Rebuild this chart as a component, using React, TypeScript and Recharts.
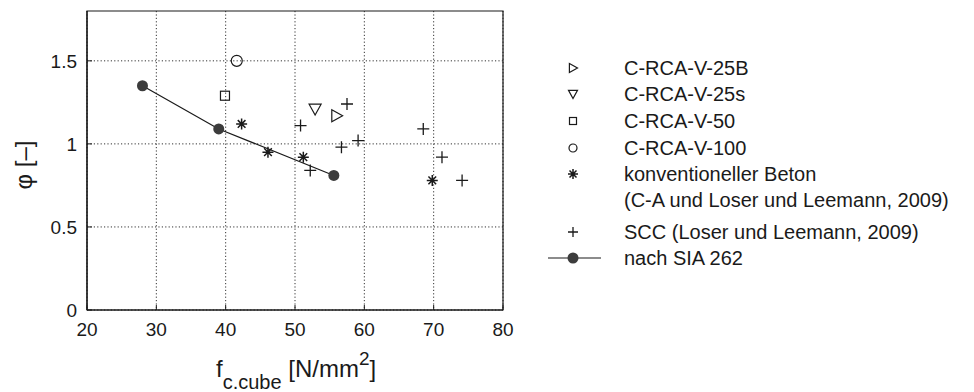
import React from "react";
import {
  ScatterChart,
  Scatter,
  XAxis,
  YAxis,
  CartesianGrid,
  ReferenceArea,
} from "recharts";

// f_c.cube [N/mm2] and phi [-] per series
const rca25bX = [56.0];
const rca25bY = [1.17];
const rca25sX = [52.9];
const rca25sY = [1.21];
const rca50X = [39.9];
const rca50Y = [1.29];
const rca100X = [41.6];
const rca100Y = [1.5];
const konvX = [42.3, 46.1, 51.2, 69.8];
const konvY = [1.12, 0.95, 0.92, 0.78];
const sccX = [57.5, 50.8, 68.5, 59.1, 56.7, 71.2, 52.2, 74.1];
const sccY = [1.24, 1.11, 1.09, 1.02, 0.98, 0.92, 0.84, 0.78];
const siaX = [28, 39, 55.6];
const siaY = [1.35, 1.09, 0.81];

const xTicks = [20, 30, 40, 50, 60, 70, 80];
const yTicks = [0, 0.5, 1, 1.5];

const legendLabels = [
  "C-RCA-V-25B",
  "C-RCA-V-25s",
  "C-RCA-V-50",
  "C-RCA-V-100",
  "konventioneller Beton",
  "(C-A und Loser und Leemann, 2009)",
  "SCC (Loser und Leemann, 2009)",
  "nach SIA 262",
];

const toPoints = (xs: number[], ys: number[]) => xs.map((x, i) => ({ x, y: ys[i] }));

const INK = "#1a1a1a";
const FONT = "'Liberation Sans', Arial, Helvetica, sans-serif";

const TriRight = ({ cx, cy, s = 6 }: any) => (
  <path
    d={`M${cx - s * 0.8},${cy - s} L${cx + s},${cy} L${cx - s * 0.8},${cy + s} Z`}
    fill="none"
    stroke={INK}
    strokeWidth={1.2}
  />
);
const TriDown = ({ cx, cy, s = 6 }: any) => (
  <path
    d={`M${cx - s},${cy - s * 0.8} L${cx + s},${cy - s * 0.8} L${cx},${cy + s} Z`}
    fill="none"
    stroke={INK}
    strokeWidth={1.2}
  />
);
const Square = ({ cx, cy, s = 4.5 }: any) => (
  <rect x={cx - s} y={cy - s} width={s * 2} height={s * 2} fill="none" stroke={INK} strokeWidth={1.2} />
);
const Ring = ({ cx, cy, s = 5.5 }: any) => (
  <circle cx={cx} cy={cy} r={s} fill="none" stroke={INK} strokeWidth={1.2} />
);
const Star = ({ cx, cy, s = 5.5 }: any) => {
  const d = s * 0.7;
  return (
    <path
      d={`M${cx},${cy - s} L${cx},${cy + s} M${cx - s},${cy} L${cx + s},${cy} M${cx - d},${cy - d} L${cx + d},${cy + d} M${cx - d},${cy + d} L${cx + d},${cy - d}`}
      stroke={INK}
      strokeWidth={1.5}
    />
  );
};
const Plus = ({ cx, cy, s = 6 }: any) => (
  <path d={`M${cx},${cy - s} L${cx},${cy + s} M${cx - s},${cy} L${cx + s},${cy}`} stroke={INK} strokeWidth={1.3} />
);
const Dot = ({ cx, cy, s = 5.5 }: any) => <circle cx={cx} cy={cy} r={s} fill="#3c3c3c" />;

const LegendBox = () => {
  const markers = [
    <TriRight cx={573} cy={0} s={4.5} />,
    <TriDown cx={573} cy={0} s={4.5} />,
    <Square cx={573} cy={0} s={3.5} />,
    <Ring cx={573} cy={0} s={4} />,
    <Star cx={573} cy={0} s={5} />,
    null,
    <Plus cx={573} cy={0} s={5} />,
    <g>
      <line x1={548} x2={601} y1={0} y2={0} stroke={INK} strokeWidth={1.2} />
      <Dot cx={573} cy={0} s={5.5} />
    </g>,
  ];
  const rowY = [68, 94, 121, 148, 174, 200, 232, 258];
  return (
    <svg width={974} height={392} style={{ position: "absolute", left: 0, top: 0, pointerEvents: "none" }}>
      {legendLabels.map((label, i) => (
        <g key={label} transform={`translate(0, ${rowY[i]})`}>
          {markers[i]}
          <text x={624} y={0} dy="0.35em" fontSize={20} fontFamily={FONT} fill={INK}>
            {label}
          </text>
        </g>
      ))}
    </svg>
  );
};

const YLabel = () => {
  const cy = 165;
  return (
    <text
      x={32}
      y={cy}
      transform={`rotate(-90, 32, ${cy})`}
      textAnchor="middle"
      fontSize={24}
      fontFamily={FONT}
      fill={INK}
    >
      φ [–]
    </text>
  );
};

const XLabel = () => (
  <text x={216} y={377} fontSize={24} fontFamily={FONT} fill={INK}>
    f
    <tspan dy={12} fontSize={20}>c.cube</tspan>
    <tspan dy={-12}> [N/mm</tspan>
    <tspan dy={-12} fontSize={19}>2</tspan>
    <tspan dy={12}>]</tspan>
  </text>
);

export default function App() {
  return (
    <div style={{ position: "absolute", left: 0, top: 0, width: 974, height: 392, background: "#fff" }}>
      <ScatterChart width={974} height={392} margin={{ top: 11, right: 471, bottom: 52, left: 10 }}>
        <CartesianGrid stroke="#333" strokeDasharray="1.2 2.2" horizontalValues={yTicks} verticalValues={xTicks} />
        <XAxis
          type="number"
          dataKey="x"
          domain={[20, 80]}
          ticks={xTicks}
          interval={0}
          height={30}
          axisLine={{ stroke: INK, strokeWidth: 1.2 }}
          tickLine={{ stroke: INK }}
          tickSize={-5}
          tickMargin={18}
          tick={{ fontSize: 19, fontFamily: FONT, fill: INK }}
          label={<XLabel />}
        />
        <YAxis
          type="number"
          dataKey="y"
          domain={[0, 1.8]}
          ticks={yTicks}
          interval={0}
          width={77}
          axisLine={{ stroke: INK, strokeWidth: 1.2 }}
          tickLine={{ stroke: INK }}
          tickSize={-5}
          tickMargin={15}
          tick={{ fontSize: 19, fontFamily: FONT, fill: INK }}
          label={<YLabel />}
        />
        <ReferenceArea x1={20} x2={80} y1={0} y2={1.8} fill="none" stroke={INK} strokeWidth={1.2} ifOverflow="visible" />
        <Scatter data={toPoints(siaX, siaY)} line={{ stroke: INK, strokeWidth: 1.2 }} shape={<Dot />} isAnimationActive={false} />
        <Scatter data={toPoints(rca25bX, rca25bY)} shape={<TriRight />} isAnimationActive={false} />
        <Scatter data={toPoints(rca25sX, rca25sY)} shape={<TriDown />} isAnimationActive={false} />
        <Scatter data={toPoints(rca50X, rca50Y)} shape={<Square />} isAnimationActive={false} />
        <Scatter data={toPoints(rca100X, rca100Y)} shape={<Ring />} isAnimationActive={false} />
        <Scatter data={toPoints(konvX, konvY)} shape={<Star />} isAnimationActive={false} />
        <Scatter data={toPoints(sccX, sccY)} shape={<Plus />} isAnimationActive={false} />
      </ScatterChart>
      <LegendBox />
    </div>
  );
}
